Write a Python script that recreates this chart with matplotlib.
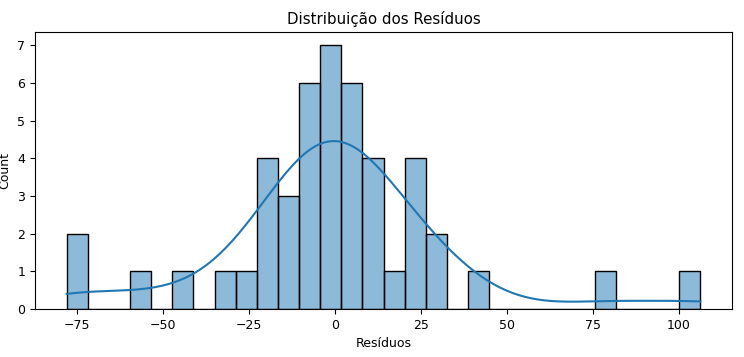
import matplotlib
matplotlib.use('Agg')
import matplotlib.pyplot as plt
import seaborn as sns
import numpy as np

# residuals (30 bins)
residuos = [
    -77.9, -73.5,
    -56.2,
    -43.8,
    -31.4,
    -24.8,
    -22.3, -20.5, -18.8, -17.0,
    -16.0, -13.5, -11.0,
    -10.0, -8.5, -7.3, -6.2, -5.3, -4.5,
    -3.6, -2.4, -1.2, 0.0, 0.8, 1.4, 1.8,
    2.3, 3.5, 4.7, 5.8, 6.9, 7.9,
    8.5, 10.0, 11.8, 13.8,
    17.5,
    21.5, 23.0, 24.5, 26.0,
    28.0, 31.0,
    42.1,
    78.4,
    106.3,
]

plt.rcParams['font.size'] = 9
plt.rcParams['axes.titlesize'] = 10.8

fig, ax = plt.subplots(figsize=(7.44, 3.57), dpi=100)
fig.subplots_adjust(left=0.047, right=0.984, top=0.91, bottom=0.135)

sns.histplot(np.array(residuos), bins=30, kde=True, ax=ax)

ax.set_title('Distribuição dos Resíduos')
ax.set_xlabel('Resíduos')
ax.set_ylabel('Count')

fig.savefig('out.png', dpi=100)
